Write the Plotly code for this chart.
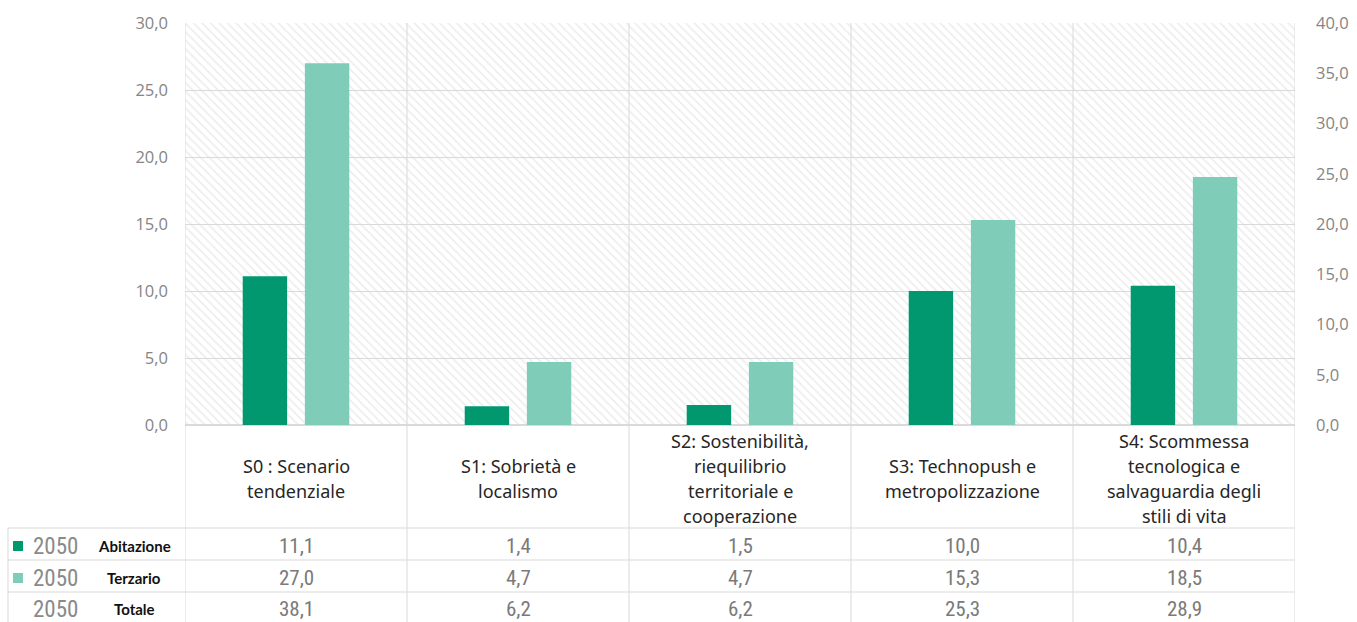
import plotly.graph_objects as go

# ---- data ----
scenarios = [
    ["S0 : Scenario", "tendenziale"],
    ["S1: Sobrietà e", "localismo"],
    ["S2: Sostenibilità,", "riequilibrio", "territoriale e", "cooperazione"],
    ["S3: Technopush e", "metropolizzazione"],
    ["S4: Scommessa", "tecnologica e", "salvaguardia degli", "stili di vita"],
]
abitazione = [11.1, 1.4, 1.5, 10.0, 10.4]
terzario = [27.0, 4.7, 4.7, 15.3, 18.5]
totale = [38.1, 6.2, 6.2, 25.3, 28.9]
year_label = "2050"
row_names = ["Abitazione", "Terzario", "Totale"]

# ---- styling ----
W, H = 1357, 622
L, R, T, B = 185, 1295, 23, 425          # plot area in pixels
DARK = "#02986f"
LIGHT = "#7fcdb9"
GRID = "#d9d9d9"
TICK_GREY = "#858585"
LEFT_MAX, RIGHT_MAX = 30, 40


def px(p):
    return (p - L) / (R - L)


def py(p):
    return (B - p) / (B - T)


n = len(scenarios)
xs = list(range(n))

fig = go.Figure()

# hatched plot background
fig.add_trace(go.Bar(
    x=[(n - 1) / 2], y=[LEFT_MAX], width=[n], base=[0],
    marker=dict(color="rgba(0,0,0,0)", line=dict(width=0),
                pattern=dict(shape="\\", fgcolor="#dcdcdc", bgcolor="rgba(0,0,0,0)",
                             size=6, solidity=0.3)),
    hoverinfo="skip", showlegend=False,
))

fig.add_trace(go.Bar(
    x=xs, y=abitazione, name="Abitazione", width=0.2, offset=-0.24,
    marker=dict(color=DARK, line=dict(width=0)), showlegend=False,
))
fig.add_trace(go.Bar(
    x=xs, y=terzario, name="Terzario", width=0.2, offset=0.04,
    marker=dict(color=LIGHT, line=dict(width=0)), showlegend=False,
))
# total series lives on the secondary axis, with no visible marker
fig.add_trace(go.Scatter(
    x=xs, y=totale, name="Totale", yaxis="y2", mode="markers",
    marker=dict(opacity=0, size=1), hoverinfo="skip", showlegend=False,
))

shapes = []
line_style = dict(color=GRID, width=1)

# vertical column separators (plot area + table)
for i in range(n + 1):
    shapes.append(dict(type="line", xref="x", yref="paper",
                       x0=i - 0.5, x1=i - 0.5, y0=1, y1=py(H),
                       line=line_style, layer="below"))
# left edge of the row-label column
shapes.append(dict(type="line", xref="paper", yref="paper",
                   x0=px(8), x1=px(8), y0=py(528), y1=py(H), line=line_style))
# horizontal table rules
for yy in (528, 560, 592):
    shapes.append(dict(type="line", xref="paper", yref="paper",
                       x0=px(8), x1=1, y0=py(yy), y1=py(yy), line=line_style))

annotations = []

# category labels, one annotation per line
LINE_H = 25
center_y = 478
for i, lines in enumerate(scenarios):
    top = center_y - (len(lines) - 1) * LINE_H / 2
    for k, txt in enumerate(lines):
        annotations.append(dict(
            x=i, y=py(top + k * LINE_H), xref="x", yref="paper",
            text=txt, showarrow=False, xanchor="center", yanchor="middle",
            font=dict(family="Noto Sans", size=18, color="#262626"),
        ))


def fmt(v):
    return f"{v:.1f}".replace(".", ",")


row_y = [546, 578, 609]
row_series = [abitazione, terzario, totale]
row_colors = [DARK, LIGHT, None]
num_font = dict(family="Liberation Sans Narrow, Arial Narrow, Roboto Condensed, Liberation Sans",
                size=21, color="#7a7a7a")
year_font = dict(num_font, size=23, color="#8a8a8a")

for r, (yy, vals, col, name) in enumerate(zip(row_y, row_series, row_colors, row_names)):
    if col:
        shapes.append(dict(type="rect", xref="paper", yref="paper",
                           x0=px(13), x1=px(23), y0=py(yy + 5), y1=py(yy - 5),
                           fillcolor=col, line=dict(width=0)))
    annotations.append(dict(x=px(55), y=py(yy), xref="paper", yref="paper",
                            text=year_label, showarrow=False, xanchor="center",
                            yanchor="middle", font=year_font))
    annotations.append(dict(x=px(134), y=py(yy), xref="paper", yref="paper",
                            text=f"<b>{name}</b>", showarrow=False, xanchor="center",
                            yanchor="middle",
                            font=dict(family="Lato", size=15, color="#111111")))
    for i, v in enumerate(vals):
        annotations.append(dict(x=i, y=py(yy), xref="x", yref="paper",
                                text=fmt(v), showarrow=False, xanchor="center",
                                yanchor="middle", font=num_font))

tick_font = dict(family="Open Sans", size=16.5, color=TICK_GREY)

fig.update_layout(
    width=W, height=H,
    margin=dict(l=L, r=W - R, t=T, b=H - B, autoexpand=False),
    paper_bgcolor="white", plot_bgcolor="white",
    barmode="overlay",
    separators=",.",
    xaxis=dict(range=[-0.5, n - 0.5], showticklabels=False, showgrid=False,
               zeroline=False, ticks="", fixedrange=True, automargin=False),
    yaxis=dict(range=[0, LEFT_MAX], dtick=5, tickformat=".1f", showgrid=True,
               gridcolor=GRID, gridwidth=1, zeroline=True, zerolinecolor=GRID,
               ticks="", ticklabelstandoff=16, tickfont=tick_font, automargin=False),
    yaxis2=dict(range=[0, RIGHT_MAX], dtick=5, tickformat=".1f", overlaying="y",
                side="right", showgrid=False, zeroline=False, ticks="",
                ticklabelstandoff=20, tickfont=tick_font, automargin=False),
    shapes=shapes,
    annotations=annotations,
    showlegend=False,
)

fig.write_html("out.html")
